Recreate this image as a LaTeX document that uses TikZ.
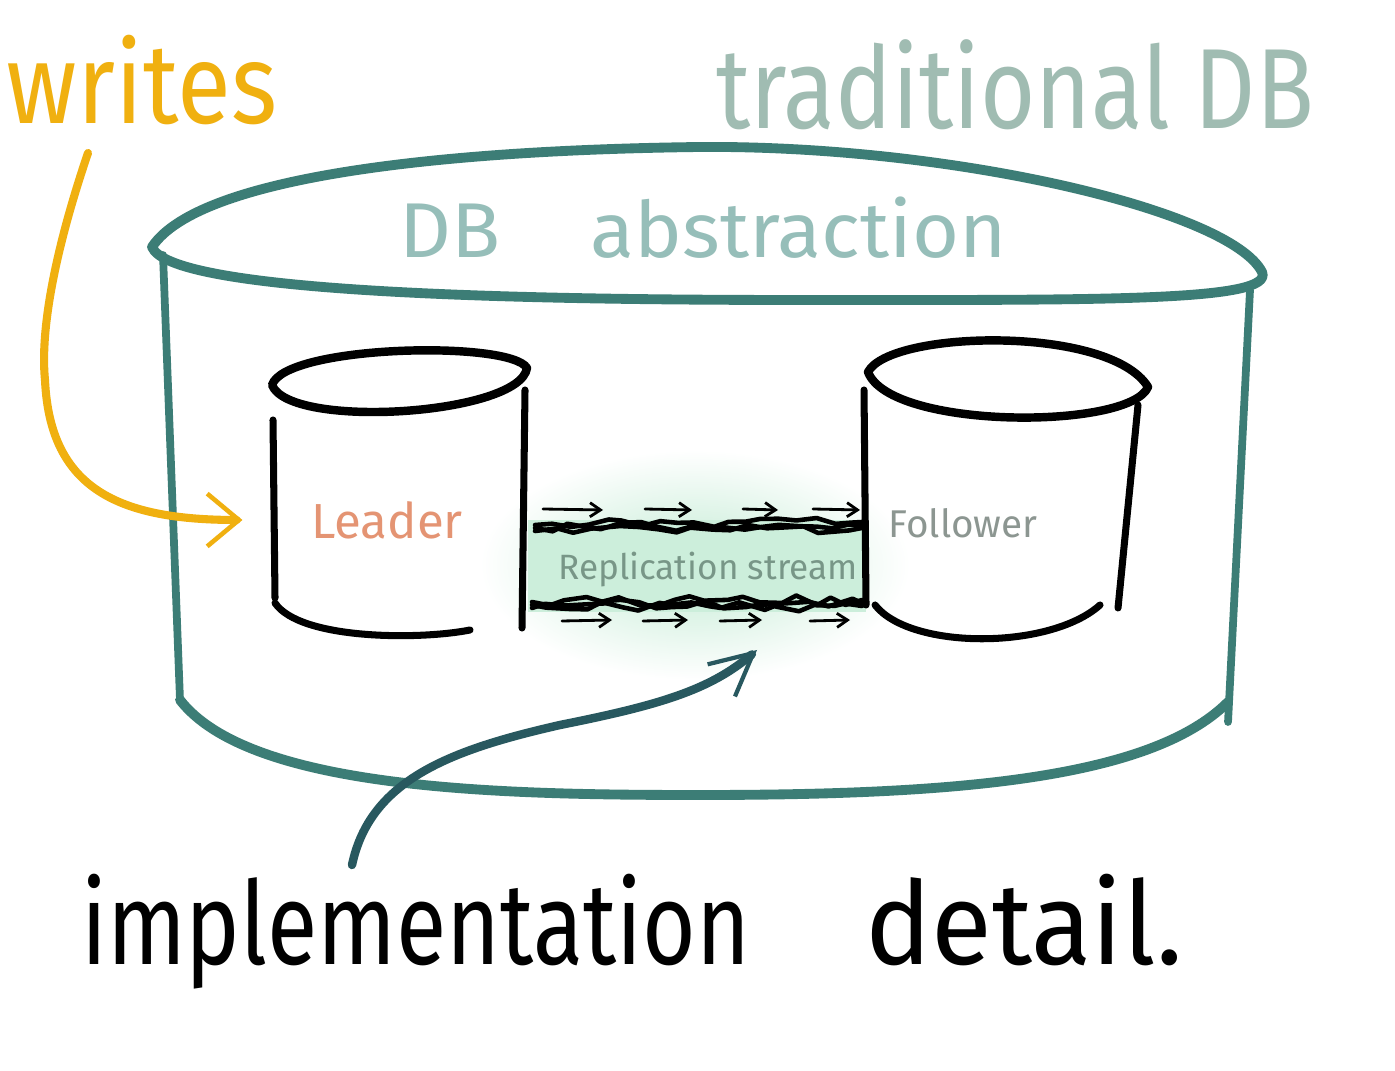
\documentclass[tikz,border=0pt]{standalone}
\usepackage{fontspec}
\setmainfont{Fira Sans}
\usetikzlibrary{arrows.meta,decorations.pathmorphing,positioning}
\definecolor{writesorange}{RGB}{240,176,16}
\definecolor{dbteal}{RGB}{60,125,118}
\definecolor{titlegray}{RGB}{160,188,178}
\definecolor{abstrteal}{RGB}{150,190,185}
\definecolor{leaderorange}{RGB}{228,148,115}
\definecolor{followergray}{RGB}{140,150,145}
\definecolor{streamgray}{RGB}{120,150,135}
\definecolor{glowgreen}{RGB}{195,235,212}
\definecolor{detailteal}{RGB}{40,88,95}

\begin{document}
\begin{tikzpicture}[x=0.01cm,y=-0.01cm,line cap=round,line join=round,
	dbline/.style={draw=dbteal,line width=2.8pt},
	disk/.style={draw=black,line width=2pt},
	scribble/.style={draw=black,line width=1.3pt,decorate,decoration={random steps,segment length=5pt,amplitude=1.4pt}},
	tick/.style={line width=0.8pt,-{Straight Barb[length=3pt,width=4pt]}},
	hand/.style={inner sep=0pt}]
	\pgfmathsetseed{7}
	\useasboundingbox (0,0) rectangle (1395,1071);
	\fill[white] (0,0) rectangle (1395,1071);

	\shade[inner color=glowgreen,outer color=white] (480,450) rectangle (910,680);
	\fill[glowgreen!85] (528,520) rectangle (866,612);

	\node[hand,text=writesorange,font=\fontsize{28}{30}\selectfont] (writes) at (142,80) {\scalebox{1}[1.15]{writes}};
	\node[hand,text=titlegray,font=\fontsize{27}{30}\selectfont] (title) at (1015,85) {\scalebox{1}[1.2]{traditional DB}};
	\node[hand,text=abstrteal,font=\fontsize{17}{20}\selectfont] (abstr) at (703,228) {\scalebox{1.35}[1.3]{DB\hspace{0.67cm}abstraction}};
	\node[hand,text=leaderorange,font=\fontsize{14}{16}\selectfont] (leader) at (387,520) {Leader};
	\node[hand,text=followergray,font=\fontsize{11}{13}\selectfont] (follower) at (963,523) {Follower};
	\node[hand,text=streamgray,font=\fontsize{10}{12}\selectfont] (stream) at (708,570) {Replication stream};
	\node[hand,text=black,font=\fontsize{27}{30}\selectfont] (detail) at (632,932)
		{\scalebox{0.97}[1.22]{implementation}\hspace{1.15cm}\scalebox{1.17}[1.22]{detail.}};

	\draw[dbline] (152,247) .. controls (200,175) and (450,150) .. (700,147)
		.. controls (950,145) and (1230,210) .. (1262,272)
		.. controls (1275,302) and (1100,300) .. (800,300)
		.. controls (500,300) and (170,292) .. cycle;
	\draw[dbline,line width=2.2pt] (163,255) -- (180,700);
	\draw[dbline,line width=2.2pt] (1250,290) -- (1228,722);
	\draw[dbline] (180,700) .. controls (250,790) and (500,795) .. (700,795)
		.. controls (950,795) and (1150,780) .. (1228,702);

	\draw[disk,line width=2.4pt] (272,385) .. controls (285,345) and (510,340) .. (527,368)
		.. controls (520,415) and (290,430) .. cycle;
	\draw[disk] (273,420) -- (275,598);
	\draw[disk] (525,390) -- (522,628);
	\draw[disk] (275,603) .. controls (300,640) and (420,640) .. (470,630);

	\draw[disk,line width=2.4pt] (868,372) .. controls (890,330) and (1110,325) .. (1148,387)
		.. controls (1130,430) and (890,430) .. cycle;
	\draw[disk] (864,390) -- (866,605);
	\draw[disk] (1138,405) -- (1118,608);
	\draw[disk] (875,605) .. controls (910,650) and (1050,650) .. (1100,605);

	\foreach \d in {-3,0,3} {
		\draw[scribble] (535,528+\d) -- (862,525+\d);
		\draw[scribble] (532,605+\d) -- (862,603+\d);
	}
	\foreach \a/\b in {543/603,645/692,743/778,813/860}
		\draw[tick] (\a,509) -- (\b,510);
	\foreach \a/\b in {562/612,643/688,720/762,810/850}
		\draw[tick] (\a,621) -- (\b,620);

	\coordinate (wstart) at (88,153);
	\draw[writesorange,line width=2.3pt,-{Straight Barb[length=9pt,width=15pt,line width=1.3pt]}]
		(wstart) .. controls (55,250) and (40,330) .. (45,380)
		.. controls (50,490) and (120,520) .. ([xshift=-0.68cm]leader.west);

	\coordinate (istart) at (352,865);
	\coordinate (itip) at (757,650);
	\draw[detailteal,line width=2.4pt,-{Straight Barb[length=12pt,width=12pt,line width=1.2pt]}]
		(istart) .. controls (370,780) and (450,750) .. (560,725)
		.. controls (660,705) and (710,690) .. (itip);
\end{tikzpicture}
\end{document}
